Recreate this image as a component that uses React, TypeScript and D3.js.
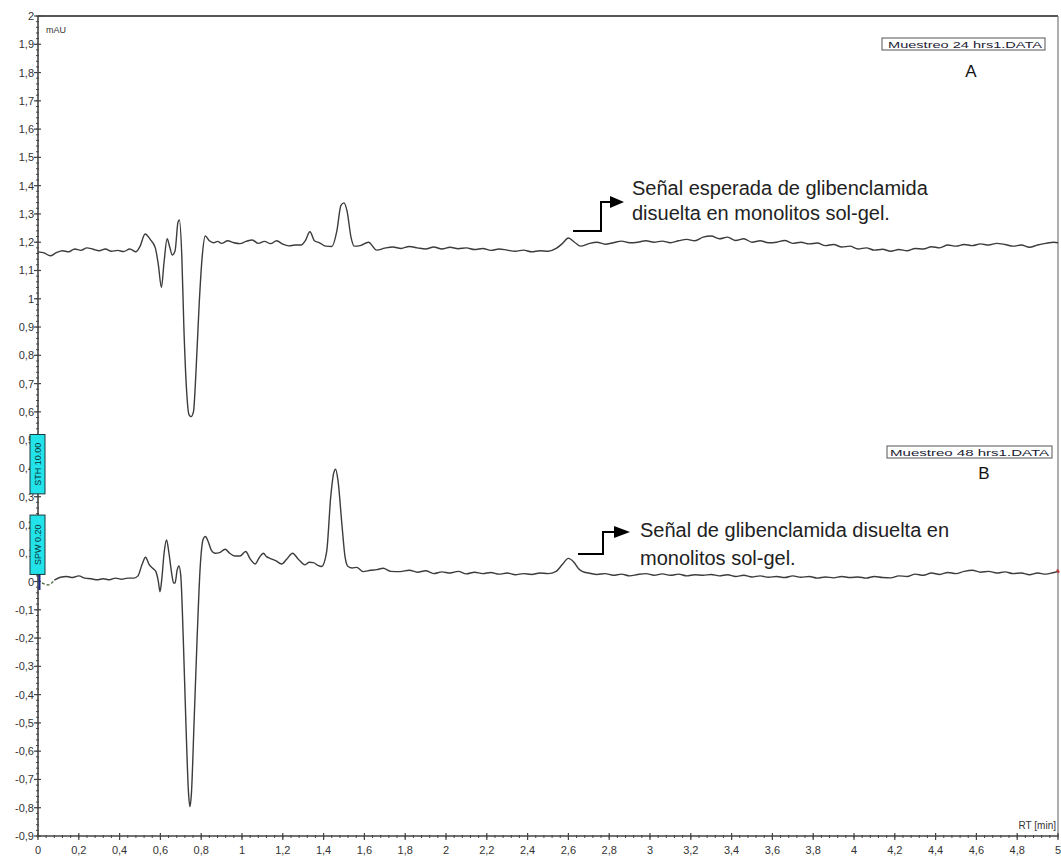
import React from "react";
import * as d3 from "d3";

// Retention time (min) and absorbance (mAU) for the 24 h sample (trace A)
const timeA = [
  0, 0.03, 0.06, 0.09, 0.12, 0.15, 0.18, 0.21, 0.24, 0.27, 0.3, 0.33, 0.36, 0.39, 0.42, 0.45, 0.48, 0.5,
  0.525, 0.55, 0.575, 0.59, 0.605, 0.618, 0.633, 0.645, 0.658, 0.672, 0.686, 0.693, 0.705, 0.715, 0.728,
  0.74, 0.75, 0.762, 0.775, 0.79, 0.805, 0.82, 0.84, 0.86, 0.88, 0.9, 0.93, 0.96, 0.99, 1.02, 1.05, 1.08,
  1.11, 1.14, 1.17, 1.2, 1.23, 1.26, 1.29, 1.31, 1.333, 1.355, 1.38, 1.41, 1.44, 1.465, 1.485, 1.5, 1.515,
  1.535, 1.55, 1.58, 1.62, 1.66, 1.7, 1.74, 1.78, 1.82, 1.86, 1.9, 1.94, 1.98, 2.02, 2.06, 2.1, 2.14, 2.18,
  2.22, 2.26, 2.3, 2.34, 2.38, 2.42, 2.46, 2.5, 2.54, 2.57, 2.6, 2.63, 2.66, 2.7, 2.74, 2.78, 2.82, 2.86,
  2.9, 2.94, 2.98, 3.02, 3.06, 3.1, 3.14, 3.18, 3.22, 3.26, 3.3, 3.34, 3.38, 3.42, 3.46, 3.5, 3.54, 3.58,
  3.62, 3.66, 3.7, 3.74, 3.78, 3.82, 3.86, 3.9, 3.94, 3.98, 4.02, 4.06, 4.1, 4.14, 4.18, 4.22, 4.26, 4.3,
  4.34, 4.38, 4.42, 4.46, 4.5, 4.54, 4.58, 4.62, 4.66, 4.7, 4.74, 4.78, 4.82, 4.86, 4.9, 4.94, 4.98, 5.0,
];
const signalA = [
  1.166, 1.162, 1.152, 1.163, 1.17, 1.166, 1.176, 1.171, 1.18, 1.175, 1.17, 1.176, 1.168, 1.171, 1.167, 1.176, 1.166, 1.185,
  1.229, 1.21, 1.18, 1.12, 1.04, 1.13, 1.212, 1.185, 1.155, 1.17, 1.27, 1.279, 1.15, 0.9, 0.68,
  0.59, 0.583, 0.6, 0.75, 0.98, 1.15, 1.222, 1.205, 1.198, 1.203, 1.196, 1.205, 1.198, 1.195, 1.203, 1.208, 1.196,
  1.203, 1.195, 1.205, 1.193, 1.187, 1.19, 1.19, 1.205, 1.237, 1.205, 1.198, 1.186, 1.185, 1.24, 1.33, 1.339, 1.31,
  1.215, 1.186, 1.188, 1.2, 1.172, 1.179, 1.183, 1.178, 1.185, 1.18, 1.176, 1.183, 1.176, 1.182, 1.177, 1.18, 1.174, 1.178,
  1.171, 1.176, 1.172, 1.168, 1.172, 1.166, 1.17, 1.168, 1.178, 1.195, 1.215, 1.2, 1.186, 1.195, 1.2, 1.193, 1.198, 1.204,
  1.198, 1.2, 1.205, 1.2, 1.204, 1.198, 1.205, 1.21, 1.205, 1.218, 1.222, 1.212, 1.218, 1.206, 1.212, 1.2, 1.205, 1.198,
  1.2, 1.206, 1.196, 1.2, 1.194, 1.197, 1.188, 1.192, 1.183, 1.186, 1.176, 1.18, 1.172, 1.175, 1.168, 1.174, 1.17, 1.178,
  1.176, 1.184, 1.18, 1.19, 1.186, 1.192, 1.188, 1.194, 1.19, 1.196, 1.192, 1.186, 1.19, 1.182, 1.19, 1.196, 1.2, 1.198,
];

// Retention time (min) and absorbance (mAU) for the 48 h sample (trace B)
const timeB = [
  0, 0.02, 0.05, 0.08, 0.11, 0.14, 0.17, 0.2, 0.23, 0.26, 0.29, 0.32, 0.35, 0.38, 0.41, 0.44, 0.47, 0.49,
  0.51, 0.527, 0.545, 0.565, 0.578, 0.59, 0.598, 0.607, 0.618, 0.63, 0.642, 0.655, 0.665, 0.672, 0.682,
  0.691, 0.7, 0.712, 0.725, 0.738, 0.745, 0.752, 0.765, 0.78, 0.795, 0.81, 0.82, 0.835, 0.85, 0.867, 0.89,
  0.917, 0.94, 0.966, 0.99, 1.018, 1.04, 1.064, 1.085, 1.105, 1.12, 1.137, 1.165, 1.194, 1.22, 1.248, 1.275,
  1.309, 1.33, 1.35, 1.37, 1.39, 1.415, 1.435, 1.45, 1.459, 1.47, 1.49, 1.505, 1.52, 1.54, 1.562, 1.594,
  1.63, 1.66, 1.692, 1.73, 1.775, 1.82, 1.86, 1.9, 1.94, 1.98, 2.02, 2.06, 2.1, 2.14, 2.18, 2.22, 2.26, 2.3,
  2.34, 2.38, 2.42, 2.46, 2.5, 2.54, 2.57, 2.6, 2.625, 2.65, 2.67, 2.7, 2.74, 2.78, 2.82, 2.86, 2.9, 2.94,
  2.98, 3.02, 3.06, 3.1, 3.14, 3.18, 3.22, 3.26, 3.3, 3.34, 3.38, 3.42, 3.46, 3.5, 3.54, 3.58, 3.62, 3.66,
  3.7, 3.74, 3.78, 3.82, 3.86, 3.9, 3.94, 3.98, 4.02, 4.06, 4.1, 4.14, 4.18, 4.22, 4.26, 4.3, 4.34, 4.38,
  4.42, 4.46, 4.5, 4.54, 4.58, 4.62, 4.66, 4.7, 4.74, 4.78, 4.82, 4.86, 4.9, 4.94, 4.98, 5.0,
];
const signalB = [
  0.006, -0.005, -0.012, 0.005, 0.015, 0.018, 0.014, 0.02, 0.012, 0.01, 0.006, 0.01, 0.006, 0.012, 0.008, 0.012, 0.012, 0.02,
  0.06, 0.086, 0.06, 0.045, 0.035, 0.0, -0.036, 0.01, 0.1, 0.147, 0.1, 0.03, -0.005, -0.005, 0.04,
  0.055, 0.02, -0.2, -0.5, -0.75, -0.796, -0.75, -0.5, -0.2, 0.05, 0.15, 0.159, 0.14, 0.11, 0.1, 0.102,
  0.114, 0.1, 0.09, 0.09, 0.106, 0.08, 0.062, 0.085, 0.1, 0.088, 0.082, 0.074, 0.062, 0.08, 0.1, 0.08,
  0.059, 0.068, 0.067, 0.058, 0.053, 0.106, 0.3, 0.385, 0.397, 0.36, 0.2, 0.088, 0.053, 0.048, 0.05, 0.035,
  0.04, 0.042, 0.047, 0.036, 0.035, 0.04, 0.033, 0.038, 0.028, 0.034, 0.03, 0.036, 0.027, 0.033, 0.028, 0.032, 0.026, 0.03,
  0.024, 0.028, 0.025, 0.03, 0.028, 0.036, 0.06, 0.082, 0.07, 0.045, 0.035, 0.03, 0.025, 0.028, 0.022, 0.026, 0.02, 0.025,
  0.028, 0.022, 0.027, 0.022, 0.026, 0.02, 0.024, 0.022, 0.025, 0.02, 0.024, 0.018, 0.022, 0.016, 0.02, 0.015, 0.018, 0.014,
  0.02, 0.015, 0.018, 0.012, 0.016, 0.013, 0.018, 0.014, 0.016, 0.012, 0.018, 0.014, 0.013, 0.02, 0.018, 0.026, 0.022, 0.03,
  0.025, 0.032, 0.028, 0.036, 0.04, 0.033, 0.036, 0.03, 0.034, 0.028, 0.03, 0.024, 0.03, 0.026, 0.032, 0.035,
];

// Axis ticks
const xMajorTicks = d3.range(0, 26).map((v) => v / 5);
const yMajorTicks = d3.range(-9, 21).map((v) => v / 10);

// Labels
const fileLabels = ["Muestreo 24 hrs1.DATA", "Muestreo  48 hrs1.DATA"];
const panelLetters = ["A", "B"];
const noteA = ["Señal esperada de glibenclamida", "disuelta en monolitos sol-gel."];
const noteB = ["Señal de glibenclamida disuelta en", "monolitos sol-gel."];
const markerLabels = ["STH 10.00", "SPW 0.20"];

const W = 1061;
const H = 856;
const left = 38;
const right = 1058;
const top = 16;
const bottom = 836;

const locale = d3.formatLocale({
  decimal: ",",
  thousands: ".",
  grouping: [3],
  currency: ["", ""],
  minus: "-",
});
const fmt = locale.format(".1~f");

const FONT = "Arial, 'Liberation Sans', Helvetica, sans-serif";

export default function App() {
  const x = d3.scaleLinear().domain([0, 5]).range([left, right]);
  const y = d3.scaleLinear().domain([-0.9, 2]).range([bottom, top]);

  const line = d3
    .line<[number, number]>()
    .x((d) => x(d[0]))
    .y((d) => y(d[1]))
    .curve(d3.curveMonotoneX);

  const ptsA: [number, number][] = timeA.map((t, i) => [t, signalA[i]]);
  const ptsB: [number, number][] = timeB.map((t, i) => [t, signalB[i]]);

  const xMinor = d3.range(0, 126).map((v) => v / 25);
  const yMinor = d3.range(-45, 101).map((v) => v / 50);

  const axisColor = "#444";
  const traceColor = "#3c3c3c";

  return (
    <svg
      width={W}
      height={H}
      style={{ position: "absolute", left: 0, top: 0, background: "#fff" }}
    >
      <rect x={0} y={0} width={W} height={H} fill="#fff" />

      {/* frame: top and right edges */}
      <line x1={left} x2={right} y1={top} y2={top} stroke="#555" strokeWidth={1.8} />
      <line x1={right} x2={right} y1={top} y2={bottom} stroke="#777" strokeWidth={1.2} />

      {/* y axis */}
      <line x1={left} x2={left} y1={top} y2={bottom} stroke={axisColor} strokeWidth={1.6} />
      {yMinor.map((v, i) => (
        <line key={"ym" + i} x1={left - 2} x2={left + 1} y1={y(v)} y2={y(v)} stroke={axisColor} strokeWidth={1} />
      ))}
      {yMajorTicks.map((v, i) => (
        <g key={"yM" + i}>
          <line x1={left - 4} x2={left + 3} y1={y(v)} y2={y(v)} stroke={axisColor} strokeWidth={1.2} />
          <text
            x={left - 4}
            y={y(v) + 4}
            textAnchor="end"
            fontFamily={FONT}
            fontSize={11}
            fill="#333"
          >
            {fmt(v)}
          </text>
        </g>
      ))}

      {/* x axis */}
      <line x1={left} x2={right} y1={bottom} y2={bottom} stroke={axisColor} strokeWidth={1.6} />
      {xMinor.map((v, i) => (
        <line key={"xm" + i} x1={x(v)} x2={x(v)} y1={bottom - 1} y2={bottom + 2} stroke={axisColor} strokeWidth={1} />
      ))}
      {xMajorTicks.map((v, i) => (
        <g key={"xM" + i}>
          <line x1={x(v)} x2={x(v)} y1={bottom - 3} y2={bottom + 4} stroke={axisColor} strokeWidth={1.2} />
          <text
            x={x(v)}
            y={bottom + 18}
            textAnchor="middle"
            fontFamily={FONT}
            fontSize={11}
            fill="#333"
          >
            {fmt(v)}
          </text>
        </g>
      ))}

      <text x={left + 8} y={top + 17} fontFamily={FONT} fontSize={9} fill="#333">
        mAU
      </text>
      <text x={right - 2} y={bottom - 7} textAnchor="end" fontFamily={FONT} fontSize={10} fill="#333">
        RT [min]
      </text>

      {/* chromatogram traces */}
      <path d={line(ptsA) ?? ""} fill="none" stroke={traceColor} strokeWidth={1.4} strokeLinejoin="round" />
      <path d={line(ptsB.slice(3)) ?? ""} fill="none" stroke={traceColor} strokeWidth={1.4} strokeLinejoin="round" />
      <path
        d={line(ptsB.slice(0, 4)) ?? ""}
        fill="none"
        stroke="#4a6a3a"
        strokeWidth={1.4}
        strokeDasharray="3,2"
      />
      <line x1={left + 1.5} x2={left + 1.5} y1={y(0.03)} y2={y(-0.03)} stroke="#1a2a8a" strokeWidth={2} />
      <line
        x1={right - 1}
        x2={right + 1}
        y1={y(signalB[signalB.length - 1]) - 2}
        y2={y(signalB[signalB.length - 1]) + 1}
        stroke="#c03030"
        strokeWidth={2}
      />

      {/* event markers on the y axis */}
      {[
        { label: markerLabels[0], y0: 0.52, y1: 0.31 },
        { label: markerLabels[1], y0: 0.235, y1: 0.025 },
      ].map((m, i) => {
        const yt = y(m.y0);
        const yb = y(m.y1);
        const cx = left - 0.5;
        const cy = (yt + yb) / 2;
        return (
          <g key={"mk" + i}>
            <rect x={left - 8} y={yt} width={15} height={yb - yt} fill="#22e2ea" stroke="#1a3a3a" strokeWidth={1} />
            <text
              transform={`translate(${cx + 3.5},${cy}) rotate(-90)`}
              textAnchor="middle"
              fontFamily={FONT}
              fontSize={9}
              fill="#0a3a3a"
            >
              {m.label}
            </text>
          </g>
        );
      })}

      {/* file labels */}
      <rect x={882} y={38} width={163} height={12} fill="#fff" stroke="#555" strokeWidth={1} />
      <text x={888} y={47.5} fontFamily={FONT} fontSize={9.5} fill="#223" textLength={154} lengthAdjust="spacingAndGlyphs">
        {fileLabels[0]}
      </text>
      <rect x={887} y={446} width={165} height={12} fill="#fff" stroke="#555" strokeWidth={1} />
      <text x={890} y={455.5} fontFamily={FONT} fontSize={9.5} fill="#223" textLength={159} lengthAdjust="spacingAndGlyphs">
        {fileLabels[1]}
      </text>
      <text x={971} y={77} textAnchor="middle" fontFamily={FONT} fontSize={17} fill="#111">
        {panelLetters[0]}
      </text>
      <text x={984} y={479} textAnchor="middle" fontFamily={FONT} fontSize={17} fill="#111">
        {panelLetters[1]}
      </text>

      {/* annotation A */}
      <polyline points="573,231 601,231 601,202 612,202" fill="none" stroke="#000" strokeWidth={2} />
      <polygon points="610,196 624,202 610,208" fill="#000" />
      <text fontFamily={FONT} fontSize={20} fill="#222">
        <tspan x={632} y={195}>{noteA[0]}</tspan>
        <tspan x={632} y={220}>{noteA[1]}</tspan>
      </text>

      {/* annotation B */}
      <polyline points="578,554 603,554 603,532 616,532" fill="none" stroke="#000" strokeWidth={2} />
      <polygon points="614,526 630,532 614,538" fill="#000" />
      <text fontFamily={FONT} fontSize={20} fill="#222">
        <tspan x={640} y={537}>{noteB[0]}</tspan>
        <tspan x={640} y={565}>{noteB[1]}</tspan>
      </text>
    </svg>
  );
}
